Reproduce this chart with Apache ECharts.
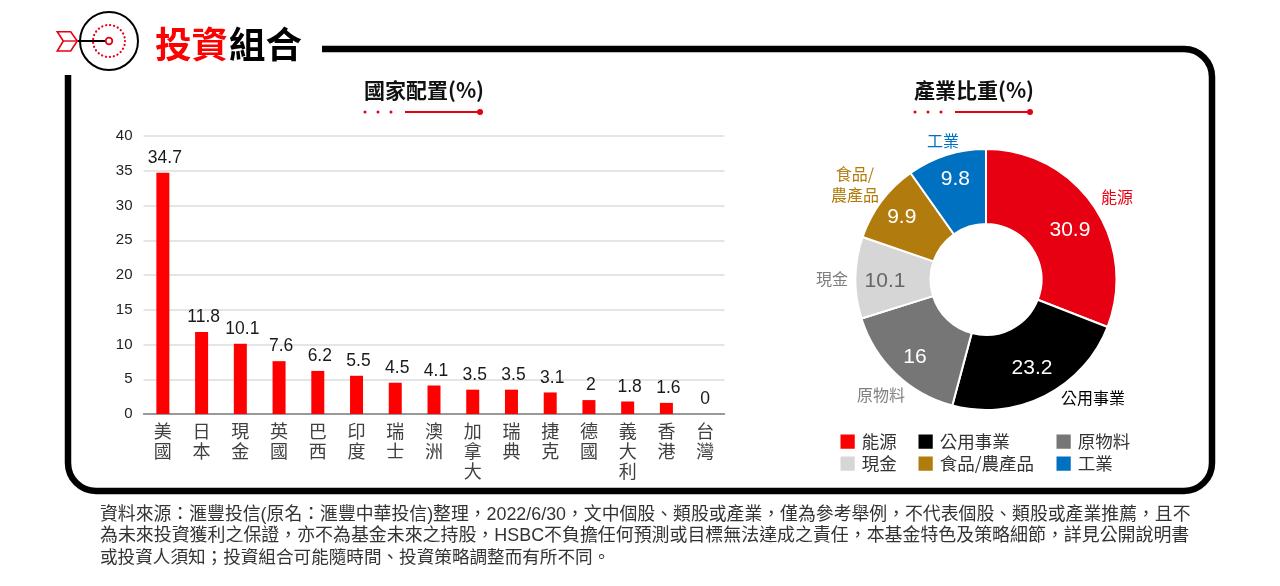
<!DOCTYPE html>
<html lang="zh-Hant"><head><meta charset="utf-8">
<style>html,body{margin:0;padding:0;background:#fff}#c{width:1280px;height:586px}</style>
<script src="https://cdn.jsdelivr.net/npm/echarts@6/dist/echarts.min.js"></script>
</head><body><div id="c"></div>
<script>
const countries = ['美國','日本','現金','英國','巴西','印度','瑞士','澳洲','加拿大','瑞典','捷克','德國','義大利','香港','台灣'];
const countryValues = [34.7,11.8,10.1,7.6,6.2,5.5,4.5,4.1,3.5,3.5,3.1,2,1.8,1.6,0];
const yTicks = {min:0,max:40,interval:5};
const sectors = ['能源','公用事業','原物料','現金','食品/農產品','工業'];
const sectorValues = [30.9,23.2,16,10.1,9.9,9.8];
const sectorColors = ['#e60012','#000000','#767676','#d6d6d6','#b27b0e','#0070c0'];
const legendColors = ['#ff0000','#000000','#767676','#d6d6d6','#b27b0e','#0070c0'];
const labelColors = ['#e60012','#000000','#808080','#7f7f7f','#b27b0e','#0070c0'];
const footnotes = [
 '資料來源：滙豐投信(原名：滙豐中華投信)整理，2022/6/30，文中個股、類股或產業，僅為參考舉例，不代表個股、類股或產業推薦，且不',
 '為未來投資獲利之保證，亦不為基金未來之持股，HSBC不負擔任何預測或目標無法達成之責任，本基金特色及策略細節，詳見公開說明書',
 '或投資人須知；投資組合可能隨時間、投資策略調整而有所不同。'];
const FONT = '"Liberation Sans","Noto Sans CJK TC",sans-serif';
const CJK = '"Noto Sans CJK TC","Liberation Sans",sans-serif';
const outerPos = {'能源':[1117,197],'公用事業':[1093,398],'原物料':[881,395],'現金':[832,279],'食品/農產品':[855,184],'工業':[943,141]};
const innerNudge = {'能源':[-2,9],'公用事業':[-1,-4],'原物料':[1,3],'現金':[3,3],'食品/農產品':[-1,0],'工業':[1,-1]};

const legendBlock = (names, left, top) => ({
  left, top, orient:'vertical', itemWidth:16.25, itemHeight:16.25, itemGap:3, icon:'rect',
  padding:0, selectedMode:false,
  textStyle:{fontFamily:CJK,fontSize:17.5,color:'#333',lineHeight:19,padding:[0,0,0,1]},
  data:names.map(n=>({name:n,itemStyle:{color:legendColors[sectors.indexOf(n)]}}))
});
const deco = (x)=>[
  {type:'circle',shape:{cx:x-59,cy:112,r:1.5},style:{fill:'#e60012'}},
  {type:'circle',shape:{cx:x-46,cy:112,r:1.5},style:{fill:'#e60012'}},
  {type:'circle',shape:{cx:x-33,cy:112,r:1.5},style:{fill:'#e60012'}},
  {type:'line',shape:{x1:x-19,y1:112,x2:x+56,y2:112},style:{stroke:'#e60012',lineWidth:2}},
  {type:'circle',shape:{cx:x+56,cy:112,r:3},style:{fill:'#e60012'}}
];
const frameStyle = {fill:'none',stroke:'#000',lineWidth:6.5};
const R = 28, L = 68, T = 49, Rt = 1212, B = 491;
const frame = [
  {type:'polyline',shape:{points:[[322,T],[Rt-R,T]]},style:frameStyle},
  {type:'arc',shape:{cx:Rt-R,cy:T+R,r:R,startAngle:-Math.PI/2,endAngle:0,clockwise:true},style:frameStyle},
  {type:'polyline',shape:{points:[[Rt,T+R],[Rt,B-R]]},style:frameStyle},
  {type:'arc',shape:{cx:Rt-R,cy:B-R,r:R,startAngle:0,endAngle:Math.PI/2,clockwise:true},style:frameStyle},
  {type:'polyline',shape:{points:[[Rt-R,B],[L+R,B]]},style:frameStyle},
  {type:'arc',shape:{cx:L+R,cy:B-R,r:R,startAngle:Math.PI/2,endAngle:Math.PI,clockwise:true},style:frameStyle},
  {type:'polyline',shape:{points:[[L,B-R],[L,75]]},style:frameStyle}
];
const chart = echarts.init(document.getElementById('c'),null,{renderer:'canvas'});
chart.setOption({
  animation:false,
  backgroundColor:'#fff',
  legend:[legendBlock(['能源','現金'],838.5,432),legendBlock(['公用事業','食品/農產品'],916.5,432),legendBlock(['原物料','工業'],1054.5,432)],
  grid:{left:143.5,top:136,width:581,height:278},
  xAxis:{type:'category',data:countries,
    axisLine:{lineStyle:{color:'#808080',width:1.5}},axisTick:{show:false},
    axisLabel:{interval:0,margin:7,fontFamily:CJK,fontSize:18,lineHeight:20,color:'#404040',formatter:v=>v.split('').join('\n')}},
  yAxis:{type:'value',min:yTicks.min,max:yTicks.max,interval:yTicks.interval,
    axisLine:{show:false},axisTick:{show:false},
    splitLine:{lineStyle:{color:'#dcdcdc',width:1.5}},
    axisLabel:{margin:11,fontFamily:FONT,fontSize:15,color:'#222'}},
  series:[
    {type:'bar',data:countryValues.map(v=>v===0?{value:v,label:{offset:[0,0]}}:v),barWidth:13,itemStyle:{color:'#ff0000'},
     label:{show:true,position:'top',distance:6,offset:[2,0],fontFamily:FONT,fontSize:17.5,color:'#1a1a1a'}},
    {type:'pie',center:[986,279.5],radius:[55.5,130.5],startAngle:90,clockwise:true,
     silent:true,label:{show:false},labelLine:{show:false},
     itemStyle:{borderColor:'#fff',borderWidth:2},
     data:sectors.map((n,i)=>({name:n,value:sectorValues[i],itemStyle:{color:sectorColors[i]}}))},
    {type:'pie',center:[986,279.5],radius:[72,130],startAngle:90,clockwise:true,silent:true,
     itemStyle:{color:'transparent'},labelLine:{show:false},
     label:{show:true,position:'inside',formatter:p=>String(p.value),fontFamily:FONT,fontSize:21,color:'#fff'},
     labelLayout:p=>{const q=innerNudge[sectors[p.dataIndex]];return {dx:q[0],dy:q[1]};},
     data:sectors.map((n,i)=>({name:n,value:sectorValues[i],itemStyle:{color:'transparent'},
        label:n==='現金'?{color:'#666666'}:{}}))},
    {type:'pie',center:[986,279.5],radius:[130,131],startAngle:90,clockwise:true,silent:true,
     itemStyle:{color:'transparent'},labelLine:{show:false},
     label:{show:true,position:'outside',fontFamily:CJK,fontSize:16,lineHeight:21,align:'center',
        formatter:p=>p.name.replace('/','/\n')},
     labelLayout:p=>{const q=outerPos[sectors[p.dataIndex]];return {x:q[0],y:q[1],align:'center',verticalAlign:'middle'};},
     data:sectors.map((n,i)=>({name:n,value:sectorValues[i],itemStyle:{color:'transparent'},label:{color:labelColors[i]}}))}
  ],
  graphic:[
    ...frame,
    {type:'polygon',shape:{points:[[57.3,31.7],[70.7,31.7],[77.3,41],[70.7,51],[57.3,51],[63.3,41]]},style:{fill:'#fff',stroke:'#e60012',lineWidth:1.6}},
    {type:'line',shape:{x1:63.3,y1:41,x2:77.3,y2:41},style:{stroke:'#e60012',lineWidth:1.4}},
    {type:'circle',shape:{cx:109,cy:41,r:29},style:{fill:'none',stroke:'#000',lineWidth:2}},
    {type:'circle',shape:{cx:109,cy:41,r:16},style:{fill:'none',stroke:'#e60012',lineWidth:2.2,lineCap:'round',lineDash:[0.1,3.9]}},
    {type:'line',shape:{x1:78,y1:41,x2:106,y2:41},style:{stroke:'#000',lineWidth:2}},
    {type:'circle',shape:{cx:109,cy:41,r:3.3},style:{fill:'#fff',stroke:'#e60012',lineWidth:1.8}},
    {type:'text',style:{x:155,y:44,text:'投資',fill:'#ff0000',font:'bold 36.5px '+CJK,verticalAlign:'middle'}},
    {type:'text',style:{x:229,y:44,text:'組合',fill:'#000',font:'bold 36.5px '+CJK,verticalAlign:'middle'}},
    {type:'text',style:{x:424,y:90,text:'國家配置(%)',fill:'#111',align:'center',verticalAlign:'middle',font:'bold 21px '+CJK}},
    {type:'text',style:{x:974,y:90,text:'產業比重(%)',fill:'#111',align:'center',verticalAlign:'middle',font:'bold 21px '+CJK}},
    ...deco(424),...deco(974),
    {type:'text',style:{x:100,y:515,text:footnotes[0],fill:'#333',verticalAlign:'middle',font:'17.85px '+FONT}},
    {type:'text',style:{x:100,y:536,text:footnotes[1],fill:'#333',verticalAlign:'middle',font:'17.93px '+FONT}},
    {type:'text',style:{x:100,y:558,text:footnotes[2],fill:'#333',verticalAlign:'middle',font:'17.6px '+FONT}}
  ]
});
</script></body></html>
